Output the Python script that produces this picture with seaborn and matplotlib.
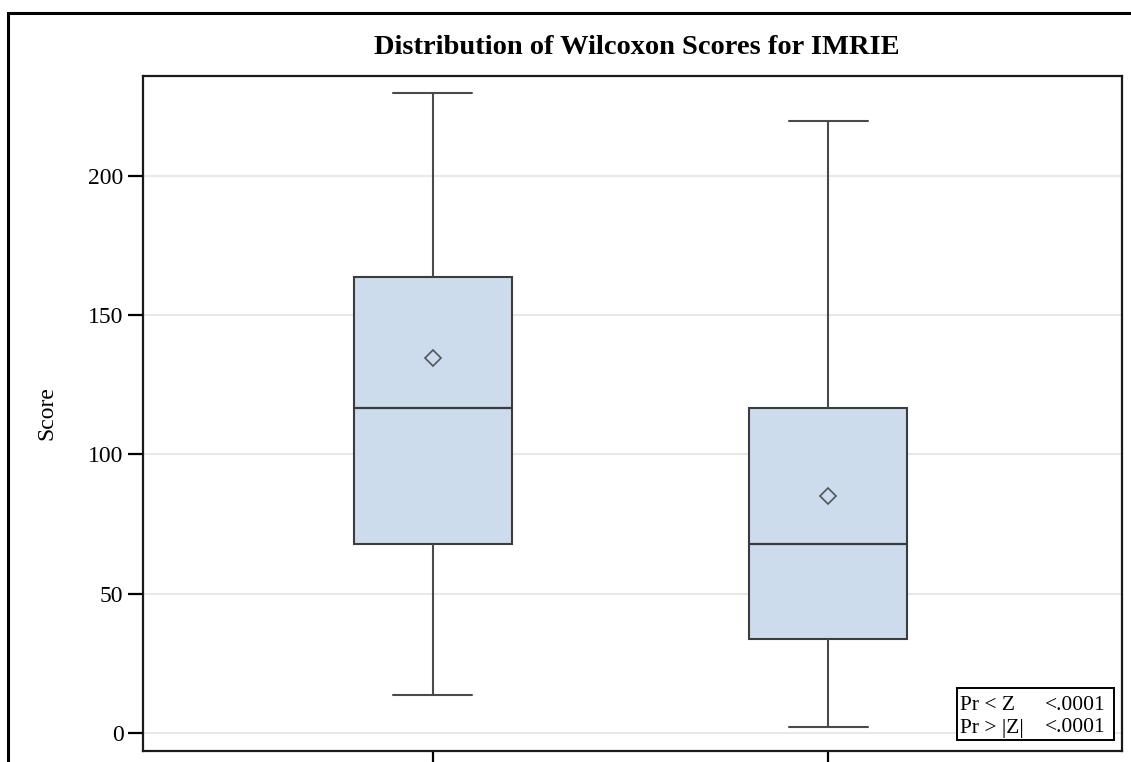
import numpy as np
import pandas as pd
import seaborn as sns
import matplotlib.pyplot as plt
from matplotlib.patches import Rectangle

# Five-number summaries of the Wilcoxon scores per class
groups = ["1", "2"]
whisker_low = [13.5, 2.2]
q1 = [67.7, 33.7]
median = [116.7, 67.8]
q3 = [163.8, 116.7]
whisker_high = [229.8, 219.7]
means = [134.6, 85.1]

title = "Distribution of Wilcoxon Scores for IMRIE"
y_label = "Score"
y_ticks = [0, 50, 100, 150, 200]

# Inset test statistics
stat_labels = ["Pr < Z", "Pr > |Z|"]
stat_values = ["<.0001", "<.0001"]

# Long-form table: each class contributes its summary points, so the
# quartiles and full-range whiskers of the boxplot land on those values
rows = []
for g, lo, a, m, b, hi in zip(groups, whisker_low, q1, median, q3, whisker_high):
    for v in (lo, a, m, b, hi):
        rows.append({"group": g, "score": v})
df = pd.DataFrame(rows)

sns.set_theme(style="white")
plt.rcParams["font.family"] = ["Liberation Serif", "DejaVu Serif"]
plt.rcParams.update({"text.color": "black", "axes.labelcolor": "black",
                     "xtick.color": "black", "ytick.color": "black"})

W, H = 1131, 762
fig = plt.figure(figsize=(W / 100, H / 100), dpi=100)
ax_left, ax_right, ax_top, ax_bottom = 143, 1122, 76, 751
ax = fig.add_axes([ax_left / W, 1 - ax_bottom / H,
                   (ax_right - ax_left) / W, (ax_bottom - ax_top) / H])

line_col = "#4a4a4a"
sns.boxplot(data=df, x="group", y="score", order=groups, ax=ax,
            whis=(0, 100), width=0.4, color="#CCDCEC", saturation=1,
            linecolor=line_col, linewidth=1.5, showfliers=False,
            boxprops=dict(edgecolor="#3c3c3c"),
            medianprops=dict(color="#3c3c3c", linewidth=1.6))

sns.pointplot(x=groups, y=means, order=groups, ax=ax, linestyle="none",
              marker="D", markersize=8.5, markerfacecolor="none",
              markeredgecolor="#555555", markeredgewidth=1.2,
              color="#555555", errorbar=None)

ax.set_xlim(-0.734, 1.744)
ax.set_ylim(-6.5, 235.8)
ax.set_yticks(y_ticks)
ax.set_yticklabels([str(t) for t in y_ticks], fontsize=17)
ax.set_xticks(range(len(groups)))
ax.tick_params(axis="x", labelbottom=False)
ax.tick_params(axis="both", direction="out", length=11, width=1.6,
               color="black", labelcolor="black", left=True, bottom=True,
               pad=3)
ax.set_xlabel("")
ax.set_ylabel(y_label, fontsize=17, labelpad=22, color="black")

ax.yaxis.grid(True, color="#E8E8E8", linewidth=1.5)
ax.xaxis.grid(False)
ax.set_axisbelow(True)
for sp in ax.spines.values():
    sp.set_visible(True)
    sp.set_color("#1a1a1a")
    sp.set_linewidth(1.6)

fig.text((ax_left + ax_right) / 2 / W + 0.004, 1 - 48 / H, title,
         ha="center", va="center", fontsize=20.5, fontweight="bold",
         color="black")

# Outer frame around the whole graph
fig.patches.append(Rectangle((8 / W, -0.2), 1.2, 1.2 - 13 / H,
                             transform=fig.transFigure, fill=False,
                             edgecolor="black", linewidth=2.2))


def axx(px):
    return (px - ax_left) / (ax_right - ax_left)


def axy(py):
    return (ax_bottom - py) / (ax_bottom - ax_top)


ax.add_patch(Rectangle((axx(957), axy(740)), axx(1114) - axx(957),
                       axy(688) - axy(740), transform=ax.transAxes,
                       facecolor="white", edgecolor="black", linewidth=1.4,
                       zorder=5))
for i, (lab, val) in enumerate(zip(stat_labels, stat_values)):
    y = axy(706 + 22 * i)
    ax.text(axx(960), y, lab, transform=ax.transAxes, ha="left",
            va="center", fontsize=15.5, zorder=6, color="black")
    ax.text(axx(1106), y, val, transform=ax.transAxes, ha="right",
            va="center", fontsize=15.5, zorder=6, color="black")

fig.savefig("out.png", dpi=100)
